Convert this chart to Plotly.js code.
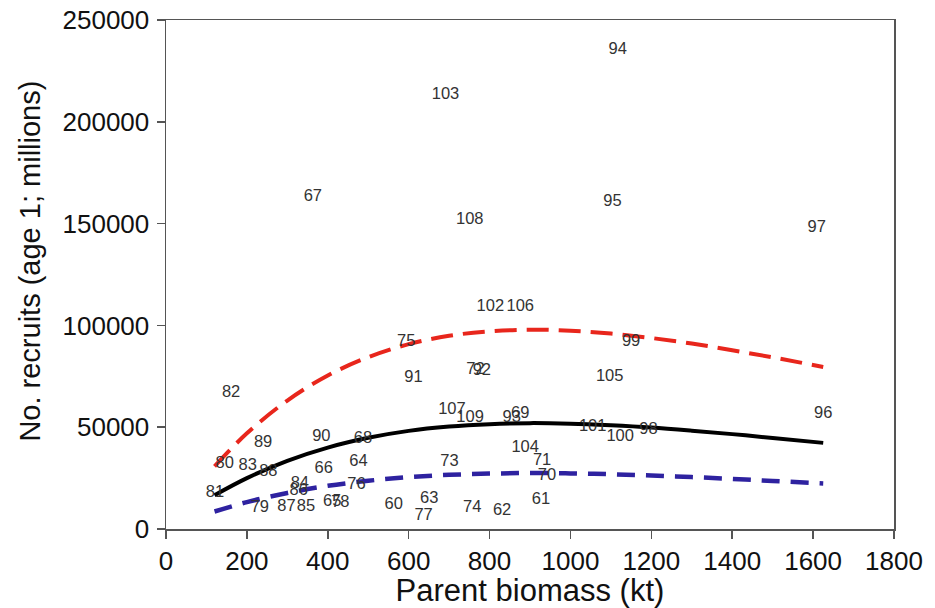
<!DOCTYPE html>
<html>
<head>
<meta charset="utf-8">
<script src="https://cdn.plot.ly/plotly-3.0.1.min.js"></script>
<style>html,body{margin:0;padding:0;background:#fff;}#chart{width:935px;height:608px;}</style>
</head>
<body>
<div id="chart"></div>
<script>
// Year labels (19xx) with parent biomass (kt) and recruits (millions, age 1)
const yearLabels = ["60","61","62","63","64","65","66","67","68","69",
  "70","71","72","73","74","75","76","77","78","79",
  "80","81","82","83","84","85","86","87","88","89",
  "90","91","92","93","94","95","96","97","98","99",
  "100","101","102","103","104","105","106","107","108","109"];
const biomass = [563, 927, 831, 651, 476, 411, 390, 363, 487, 876,
  942, 930, 765, 701, 757, 594, 471, 637, 431, 232,
  145, 121, 161, 202, 331, 346, 328, 298, 253, 240,
  384, 612, 781, 855, 1117, 1104, 1625, 1609, 1193, 1150,
  1123, 1055, 802, 691, 888, 1097, 876, 707, 751, 752];
const recruits = [12000, 14300, 8700, 14800, 32800, 13500, 29500, 162900, 44300, 56500,
  26300, 33600, 78100, 33100, 10400, 91800, 21800, 6600, 12800, 10400,
  32000, 17600, 66800, 30800, 22200, 11000, 18500, 11000, 28100, 42100,
  45100, 74000, 77600, 54600, 235200, 160800, 56500, 147800, 48800, 91700,
  45400, 50300, 109200, 213300, 39900, 74500, 109200, 58600, 151800, 54600];

// Fitted stock-recruitment curve and its bounds
const curveBiomass = [120, 200, 300, 400, 500, 600, 700, 800, 900, 1000, 1100, 1200, 1300, 1400, 1500, 1625];
const fitMid   = [16600, 25000, 33500, 40000, 44800, 48200, 50300, 51500, 52000, 51700, 50900, 49800, 48300, 46600, 44700, 42300];
const fitUpper = [30800, 47000, 63100, 75400, 84400, 90800, 94900, 97100, 97900, 97400, 96000, 93800, 91100, 87800, 84300, 79600];
const fitLower = [8600, 13200, 17700, 21200, 23700, 25500, 26600, 27200, 27500, 27300, 26900, 26300, 25500, 24600, 23600, 22400];

const FONT = "Liberation Sans, Arial, sans-serif";

const traces = [
  {x: curveBiomass, y: fitUpper, mode: "lines", line: {color: "#e8261c", width: 4, dash: "22px,10px", shape: "spline"}, hoverinfo: "skip"},
  {x: curveBiomass, y: fitLower, mode: "lines", line: {color: "#2e22a0", width: 4.5, dash: "18px,11px", shape: "spline"}, hoverinfo: "skip"},
  {x: curveBiomass, y: fitMid, mode: "lines", line: {color: "#000000", width: 4, shape: "spline"}, hoverinfo: "skip"},
  {x: biomass, y: recruits, mode: "text", text: yearLabels, textposition: "middle center",
   textfont: {family: FONT, size: 16.5, color: "#333333"}, hoverinfo: "skip"}
];

const layout = {
  width: 935, height: 608,
  margin: {l: 166, r: 41, t: 20, b: 79},
  paper_bgcolor: "#ffffff", plot_bgcolor: "#ffffff",
  showlegend: false,
  font: {family: FONT, color: "#111"},
  xaxis: {
    range: [0, 1800], tickvals: [0,200,400,600,800,1000,1200,1400,1600,1800],
    showgrid: false, zeroline: false, showline: true, linecolor: "#555", linewidth: 1.5,
    mirror: true, ticks: "outside", ticklen: 8, tickwidth: 1.5, tickcolor: "#555",
    tickfont: {family: FONT, size: 26, color: "#111"},
    title: {text: "Parent biomass (kt)", font: {family: FONT, size: 31, color: "#111"}, standoff: 6}
  },
  yaxis: {
    range: [0, 250000], tickvals: [0,50000,100000,150000,200000,250000],
    ticktext: ["0","50000","100000","150000","200000","250000"],
    showgrid: false, zeroline: false, showline: true, linecolor: "#555", linewidth: 1.5,
    mirror: true, ticks: "outside", ticklen: 8, tickwidth: 1.5, tickcolor: "#555",
    ticklabelstandoff: 2,
    tickfont: {family: FONT, size: 26, color: "#111"}
  },
  annotations: [{
    text: "No. recruits (age 1; millions)", textangle: -90,
    xref: "paper", yref: "paper", x: -0.187, y: 0.527,
    xanchor: "center", yanchor: "middle", showarrow: false,
    font: {family: FONT, size: 29, color: "#111"}
  }]
};

Plotly.newPlot("chart", traces, layout, {displayModeBar: false, staticPlot: true});
</script>
</body>
</html>
